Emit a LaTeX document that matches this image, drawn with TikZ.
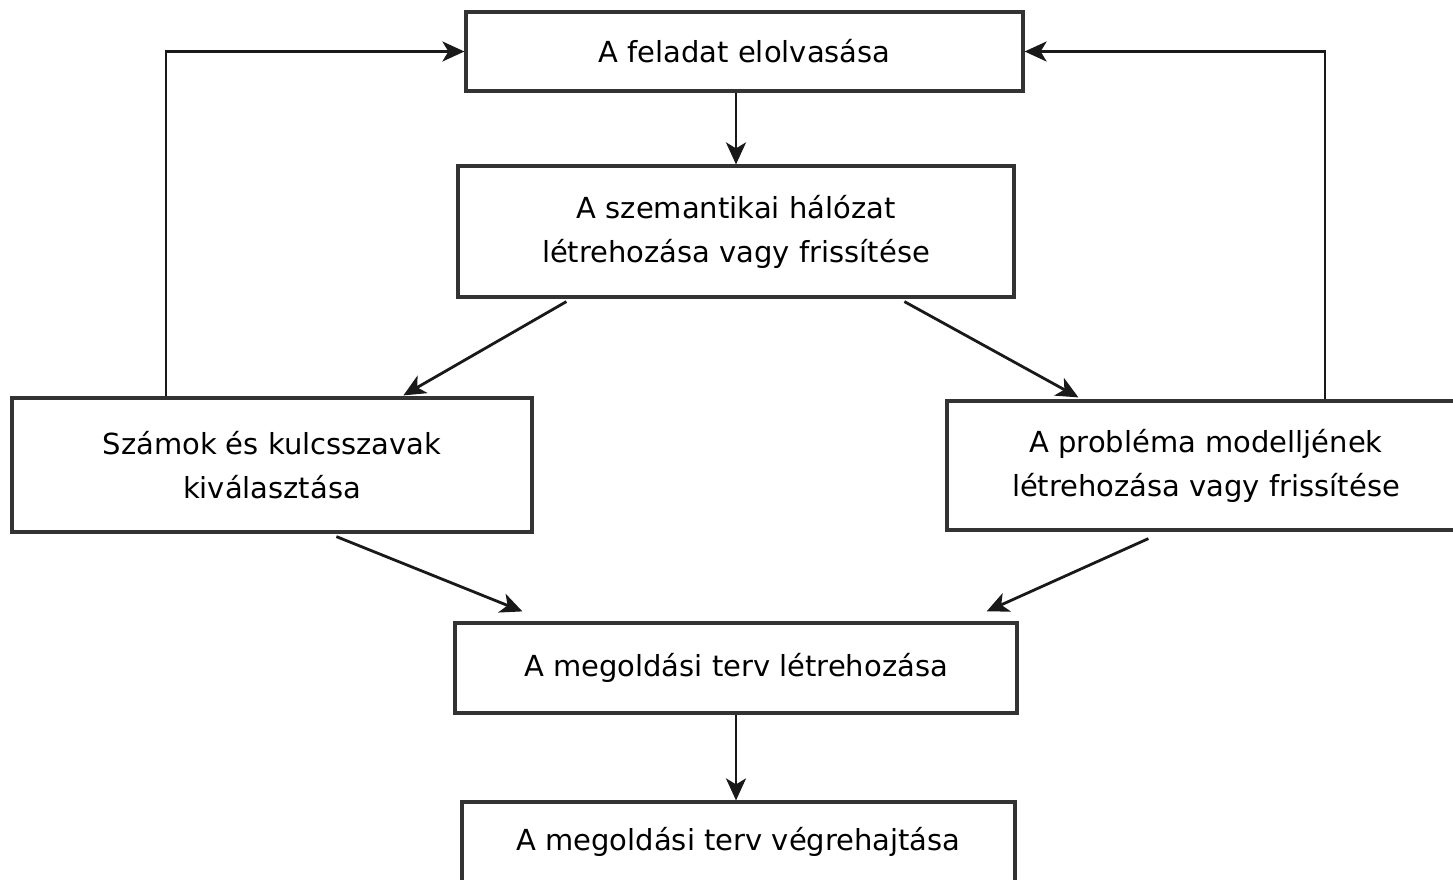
\documentclass[tikz,border=0pt]{standalone}
\usepackage{fontspec}
\setmainfont{DejaVu Sans}
\usetikzlibrary{arrows.meta}

\begin{document}
\begin{tikzpicture}[x=1pt,y=-1pt]
        \tikzstyle{every path}=[line width=2.8pt]

        \edef\sizefont{29}
        \tikzstyle{box}=[draw=black!80,line width=3.2pt,align=center,inner sep=0pt,font=\fontsize{\sizefont}{44}\selectfont]
        \tikzstyle{arr}=[-{Stealth[length=22pt,width=20pt,inset=6pt]},black!90]

        \useasboundingbox (0,0) rectangle (1453,880);

        \node [box,minimum width=557pt,minimum height=79pt] at (744.5,51.5) (read) {A feladat elolvasása};
        \node [box,minimum width=556pt,minimum height=131pt] at (736,231.5) (szem) {A szemantikai hálózat\\létrehozása vagy frissítése};
        \node [box,minimum width=520pt,minimum height=134pt] at (272,465) (szamok) {Számok és kulcsszavak\\kiválasztása};
        \node [box,minimum width=518pt,minimum height=129pt] at (1206,465.5) (modell) {A probléma modelljének\\létrehozása vagy frissítése};
        \node [box,minimum width=562pt,minimum height=90pt] at (736,668) (terv) {A megoldási terv létrehozása};
        \node [box,minimum width=553pt,minimum height=80pt] at (738.5,842) (vegre) {A megoldási terv végrehajtása};

        \draw[arr] ([xshift=-8.5pt]read.south) -- (szem.north);                              % read->szem
        \draw[arr] ([xshift=110pt,yshift=-3pt]szem.south west) -- ([xshift=393pt,yshift=1pt]szamok.north west);   % szem->szamok
        \draw[arr] ([xshift=448pt,yshift=-3pt]szem.south west) -- ([xshift=133pt,yshift=2pt]modell.north west);   % szem->modell
        \draw[arr] ([xshift=326pt,yshift=-3pt]szamok.south west) -- ([xshift=69pt,yshift=10pt]terv.north west);   % szamok->terv
        \draw[arr] ([xshift=203pt,yshift=-7pt]modell.south west) -- ([xshift=-32pt,yshift=10pt]terv.north east);  % modell->terv
        \draw[arr] (terv.south) -- (terv.south |- vegre.north);                              % terv->vegre
        \draw[arr] ([xshift=-106pt]szamok.north) |- (read.west);                             % szamok->read
        \draw[arr] ([xshift=119pt]modell.north) |- (read.east);                              % modell->read

\end{tikzpicture}
\end{document}
